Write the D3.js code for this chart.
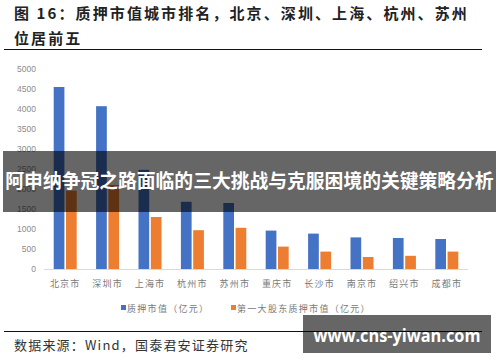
<!DOCTYPE html>
<html>
<head>
<meta charset="utf-8">
<script src="https://cdn.jsdelivr.net/npm/d3@7"></script>
<style>
  body { margin: 0; background: #fff; }
  svg { display: block; font-family: "Noto Sans CJK SC", sans-serif; }
</style>
</head>
<body>
<svg id="chart" width="500" height="362"></svg>
<script>
// data
let cities = ["北京市", "深圳市", "上海市", "杭州市", "苏州市", "重庆市", "长沙市", "南京市", "绍兴市", "成都市"];
let pledgeValue = [4550, 4070, 2480, 1680, 1650, 960, 885, 790, 775, 750];
let topHolderValue = [1960, 2100, 1300, 970, 1030, 560, 435, 300, 330, 435];
let seriesNames = ["质押市值（亿元）", "第一大股东质押市值（亿元）"];
let yTicks = [0, 500, 1000, 1500, 2000, 2500, 3000, 3500, 4000, 4500, 5000];
let colors = ["#4472c4", "#ed7d31"];

let svg = d3.select("#chart");

let x = d3.scaleBand()
    .domain(cities)
    .range([44, 468]);

let xInner = d3.scaleBand()
    .domain([0, 1])
    .range([0, 23])
    .paddingInner(0.13);

let y = d3.scaleLinear()
    .domain([0, 5000])
    .range([269, 69]);

// title
let title = svg.append("g")
    .attr("fill", "#222")
    .attr("font-size", 15)
    .attr("font-weight", "bold")
    .attr("letter-spacing", 2.1);
title.append("text").attr("x", 14).attr("y", 19)
    .text("图 16：质押市值城市排名，北京、深圳、上海、杭州、苏州");
title.append("text").attr("x", 14).attr("y", 44)
    .text("位居前五");

svg.append("line")
    .attr("x1", 4).attr("x2", 482)
    .attr("y1", 49.5).attr("y2", 49.5)
    .attr("stroke", "#111").attr("stroke-width", 1);

// y axis labels
svg.append("g")
    .selectAll("text")
    .data(yTicks)
    .enter()
    .append("text")
    .attr("x", 36)
    .attr("y", d => y(d))
    .attr("dy", "0.35em")
    .attr("text-anchor", "end")
    .attr("font-size", 8.5)
    .attr("font-family", "Liberation Sans, sans-serif")
    .attr("fill", "#8c8c8c")
    .text(d => d);

// bars
let groups = svg.append("g")
    .selectAll("g")
    .data(cities.map((c, i) => ({city: c, vals: [pledgeValue[i], topHolderValue[i]]})))
    .enter()
    .append("g")
    .attr("transform", d => "translate(" + (x(d.city) + (x.bandwidth() - 23) / 2) + ",0)");

groups.selectAll("rect")
    .data(d => d.vals.map((v, k) => ({k: k, v: v})))
    .enter()
    .append("rect")
    .attr("x", d => xInner(d.k))
    .attr("width", xInner.bandwidth())
    .attr("y", d => y(d.v))
    .attr("height", d => y(0) - y(d.v))
    .attr("fill", d => colors[d.k]);

// baseline
svg.append("line")
    .attr("x1", 44).attr("x2", 468)
    .attr("y1", y(0) + 0.5).attr("y2", y(0) + 0.5)
    .attr("stroke", "#d9d9d9");

// category labels
svg.append("g")
    .selectAll("text")
    .data(cities)
    .enter()
    .append("text")
    .attr("x", d => x(d) + x.bandwidth() / 2)
    .attr("y", 287)
    .attr("text-anchor", "middle")
    .attr("font-size", 9)
    .attr("letter-spacing", 1.2)
    .attr("fill", "#7a7a7a")
    .text(d => d);

// legend
let legendX = [121, 231];
let legend = svg.append("g")
    .selectAll("g")
    .data(seriesNames)
    .enter()
    .append("g")
    .attr("transform", (d, i) => "translate(" + legendX[i] + ",308)");
legend.append("rect")
    .attr("x", 0).attr("y", -3)
    .attr("width", 5).attr("height", 5)
    .attr("fill", (d, i) => colors[i]);
legend.append("text")
    .attr("x", 6)
    .attr("y", 3.5)
    .attr("font-size", 9)
    .attr("letter-spacing", 1.3)
    .attr("fill", "#7a7a7a")
    .text(d => d);

// footer
svg.append("line")
    .attr("x1", 4).attr("x2", 482)
    .attr("y1", 331.5).attr("y2", 331.5)
    .attr("stroke", "#111").attr("stroke-width", 1);

svg.append("text")
    .attr("x", 14)
    .attr("y", 350)
    .attr("font-size", 13)
    .attr("letter-spacing", 1.2)
    .attr("fill", "#333")
    .text("数据来源：Wind，国泰君安证券研究");

// overlay banner
svg.append("rect")
    .attr("x", 3).attr("y", 151)
    .attr("width", 493).attr("height", 61)
    .attr("fill", "#000").attr("fill-opacity", 0.6);
svg.append("text")
    .attr("x", 249.5)
    .attr("y", 188)
    .attr("text-anchor", "middle")
    .attr("font-size", 18.8)
    .attr("font-weight", "bold")
    .attr("fill", "#fff")
    .text("阿申纳争冠之路面临的三大挑战与克服困境的关键策略分析");

// watermark
svg.append("rect")
    .attr("x", 303).attr("y", 315)
    .attr("width", 188).attr("height", 38)
    .attr("fill", "#000").attr("fill-opacity", 0.6);
svg.append("text")
    .attr("x", 397)
    .attr("y", 342)
    .attr("text-anchor", "middle")
    .attr("font-size", 17)
    .attr("font-weight", "bold")
    .attr("font-family", "Open Sans, sans-serif")
    .attr("textLength", 167)
    .attr("lengthAdjust", "spacingAndGlyphs")
    .attr("fill", "#fff")
    .text("www.cns-yiwan.com");
</script>
</body>
</html>
